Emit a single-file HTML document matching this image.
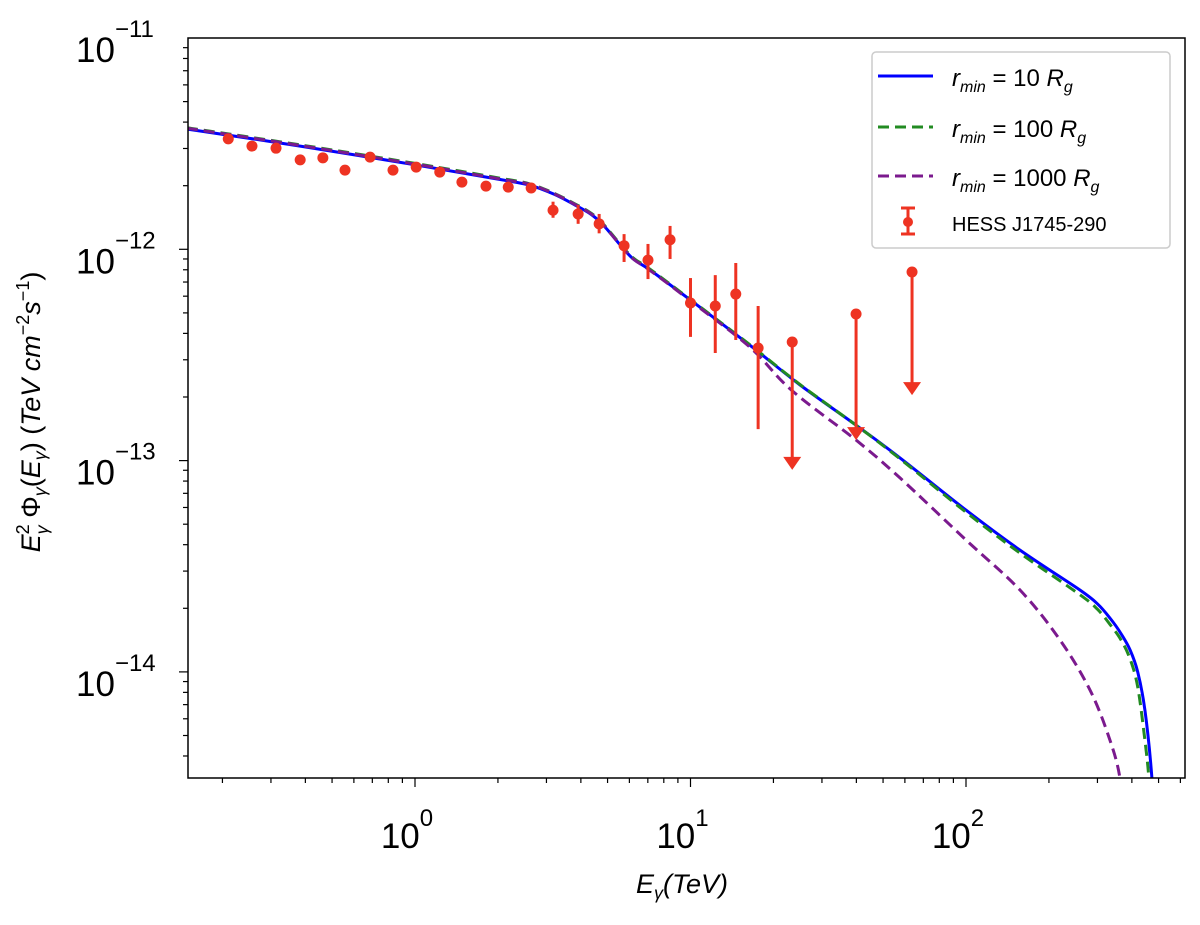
<!DOCTYPE html>
<html><head><meta charset="utf-8"><style>
body{margin:0;background:#fff;width:1200px;height:920px;overflow:hidden}
svg{font-family:"Liberation Sans","DejaVu Sans",sans-serif}
</style></head><body>
<svg id="chart" width="1200" height="920" viewBox="0 0 1200 920" xmlns="http://www.w3.org/2000/svg">
<defs><clipPath id="plotclip"><rect x="188" y="38" width="997" height="740"/></clipPath></defs>
<g id="curves" clip-path="url(#plotclip)"></g>
<g id="points"></g>
<rect x="188" y="38" width="997" height="740" fill="none" stroke="#000" stroke-width="1.5"/>
<g id="axes"></g>
<text x="682" y="893" font-size="27" text-anchor="middle" font-style="italic">E<tspan font-size="18" dy="6">γ</tspan><tspan dy="-6">(TeV)</tspan></text>
<text transform="translate(40,412) rotate(-90)" font-size="27" text-anchor="middle"><tspan font-style="italic">E</tspan><tspan font-size="18" dy="-11">2</tspan><tspan font-size="18" dx="-10" dy="19" font-style="italic">γ</tspan><tspan dy="-8">  Φ</tspan><tspan font-size="18" dy="6" font-style="italic">γ</tspan><tspan dy="-6">(</tspan><tspan font-style="italic">E</tspan><tspan font-size="18" dy="6" font-style="italic">γ</tspan><tspan dy="-6">) (</tspan><tspan font-style="italic">TeV cm</tspan><tspan font-size="18" dy="-11">−2</tspan><tspan dy="11" font-style="italic">s</tspan><tspan font-size="18" dy="-11">−1</tspan><tspan dy="11">)</tspan></text>
<g>
<rect x="872" y="52" width="298" height="196" rx="4" fill="#fff" stroke="#ccc" stroke-width="1.5"/>
<line x1="878" y1="76" x2="933" y2="76" stroke="#0000ff" stroke-width="3"/>
<text x="952" y="86" font-size="24"><tspan font-style="italic">r</tspan><tspan font-size="16" dy="6" font-style="italic">min</tspan><tspan dy="-6"> = 10 </tspan><tspan font-style="italic">R</tspan><tspan font-size="16" dy="6" font-style="italic">g</tspan></text>
<line x1="878" y1="127" x2="933" y2="127" stroke="#228b22" stroke-width="3" stroke-dasharray="11,6"/>
<text x="952" y="137" font-size="24"><tspan font-style="italic">r</tspan><tspan font-size="16" dy="6" font-style="italic">min</tspan><tspan dy="-6"> = 100 </tspan><tspan font-style="italic">R</tspan><tspan font-size="16" dy="6" font-style="italic">g</tspan></text>
<line x1="878" y1="176" x2="933" y2="176" stroke="#7b1a8e" stroke-width="3" stroke-dasharray="11,6"/>
<text x="952" y="186" font-size="24"><tspan font-style="italic">r</tspan><tspan font-size="16" dy="6" font-style="italic">min</tspan><tspan dy="-6"> = 1000 </tspan><tspan font-style="italic">R</tspan><tspan font-size="16" dy="6" font-style="italic">g</tspan></text>
<g stroke="#ee3322" stroke-width="3">
<line x1="908" y1="208" x2="908" y2="234"/><line x1="901" y1="208" x2="915" y2="208"/><line x1="901" y1="234" x2="915" y2="234"/><circle cx="908" cy="222" r="5" fill="#ee3322" stroke="none"/></g>
<text x="952" y="231" font-size="20">HESS J1745-290</text>
</g>
</svg>
<script>
// data
const dataE=[0.21,0.256,0.313,0.383,0.463,0.557,0.687,0.832,1.01,1.23,1.48,1.81,2.18,2.64,3.17,3.91,4.66,5.74,7.01,8.43,10.0,12.3,14.6,17.6];
const dataF=[3.33e-12,3.08e-12,3.01e-12,2.65e-12,2.71e-12,2.37e-12,2.73e-12,2.37e-12,2.45e-12,2.32e-12,2.08e-12,1.99e-12,1.97e-12,1.95e-12,1.53e-12,1.47e-12,1.32e-12,1.04e-12,0.889e-12,1.11e-12,0.557e-12,0.539e-12,0.614e-12,0.341e-12];
const dataHi=[null,null,null,null,null,null,null,null,null,null,null,null,null,null,1.68e-12,1.62e-12,1.47e-12,1.18e-12,1.06e-12,1.29e-12,0.731e-12,0.755e-12,0.861e-12,0.539e-12];
const dataLo=[null,null,null,null,null,null,null,null,null,null,null,null,null,null,1.41e-12,1.32e-12,1.19e-12,0.871e-12,0.723e-12,0.900e-12,0.385e-12,0.323e-12,0.372e-12,0.141e-12];
const ulE=[23.4,39.9,63.7];
const ulF=[0.364e-12,0.494e-12,0.781e-12];
const ulTip=[9.04e-14,1.25e-13,2.04e-13];
const blueE=[0.15,0.166,0.383,1,2.0,2.61,3.2,3.81,4.3,4.69,5.1,5.55,6.2,7.13,10,16.4,25.0,39.9,57.6,100,157,259,300,333,365,394,420,446,473,480];
const blueF=[3.7e-12,3.63e-12,3.08e-12,2.51e-12,2.15e-12,2.01e-12,1.82e-12,1.62e-12,1.48e-12,1.35e-12,1.2e-12,1.05e-12,0.9e-12,0.798e-12,0.575e-12,0.352e-12,0.228e-12,0.147e-12,0.103e-12,0.0583e-12,0.0377e-12,0.0244e-12,0.0210e-12,0.0180e-12,0.0152e-12,0.0127e-12,0.0100e-12,0.0066e-12,0.00315e-12,0.002e-12];
const greenE=[0.15,0.166,0.383,1,2.0,2.61,3.2,3.81,4.3,4.69,5.1,5.55,6.2,7.13,10,16.4,25.0,39.9,57.6,100,157,259,300,333,365,394,420,446,461,468];
const greenF=[3.75e-12,3.68e-12,3.12e-12,2.55e-12,2.18e-12,2.04e-12,1.84e-12,1.64e-12,1.5e-12,1.37e-12,1.21e-12,1.06e-12,0.91e-12,0.805e-12,0.578e-12,0.354e-12,0.229e-12,0.147e-12,0.102e-12,0.0570e-12,0.0365e-12,0.0232e-12,0.0198e-12,0.0168e-12,0.0142e-12,0.0115e-12,0.0085e-12,0.00476e-12,0.00315e-12,0.002e-12];
const purpleE=[0.15,0.166,0.383,1,2.0,2.61,3.2,3.81,4.3,4.69,5.1,5.55,6.2,7.13,10,16.4,23.2,39.9,57.6,100,157,219,282,333,362,370];
const purpleF=[3.72e-12,3.66e-12,3.1e-12,2.53e-12,2.16e-12,2.03e-12,1.83e-12,1.63e-12,1.49e-12,1.36e-12,1.2e-12,1.05e-12,0.9e-12,0.795e-12,0.57e-12,0.345e-12,0.216e-12,0.125e-12,0.0828e-12,0.0421e-12,0.0244e-12,0.0142e-12,0.0082e-12,0.00476e-12,0.00315e-12,0.002e-12];
const xTickExp=[0,1,2];
const yTickExp=[-11,-12,-13,-14];

const NS="http://www.w3.org/2000/svg";
const X0=415,XD=275.5,Y0=38,YD=211.3;
function sx(e){return X0+Math.log10(e)*XD;}
function sy(f){return Y0+(-11-Math.log10(f))*YD;}
function mk(tag,attrs,parent){const el=document.createElementNS(NS,tag);for(const k in attrs)el.setAttribute(k,attrs[k]);parent.appendChild(el);return el;}
const curves=document.getElementById('curves'),pts=document.getElementById('points'),axes=document.getElementById('axes');
function smoothPath(E,F){
  const P=E.map((e,i)=>[sx(e),sy(F[i])]);
  let d='M'+P[0][0].toFixed(1)+','+P[0][1].toFixed(1);
  for(let i=0;i<P.length-1;i++){
    const p0=P[Math.max(0,i-1)],p1=P[i],p2=P[i+1],p3=P[Math.min(P.length-1,i+2)];
    const c1=[p1[0]+(p2[0]-p0[0])/6,p1[1]+(p2[1]-p0[1])/6],c2=[p2[0]-(p3[0]-p1[0])/6,p2[1]-(p3[1]-p1[1])/6];
    d+=` C${c1[0].toFixed(1)},${c1[1].toFixed(1)} ${c2[0].toFixed(1)},${c2[1].toFixed(1)} ${p2[0].toFixed(1)},${p2[1].toFixed(1)}`;
  }
  return d;
}
function line(E,F,color,dash,name){
  const p=mk('path',{d:smoothPath(E,F),fill:'none',stroke:color,'stroke-width':3,'stroke-dasharray':dash},curves);
  
  
}
line(blueE,blueF,'#0000ff','none','curve-10rg');
line(greenE,greenF,'#228b22','11,6','curve-100rg');
line(purpleE,purpleF,'#7b1a8e','11,6','curve-1000rg');
const red='#ee3322';
dataE.forEach((e,i)=>{
  const g=mk('g',{},pts);
  
  
  if(dataHi[i]!==null) mk('line',{x1:sx(e),x2:sx(e),y1:sy(dataHi[i]),y2:sy(dataLo[i]),stroke:red,'stroke-width':3},g);
  mk('circle',{cx:sx(e),cy:sy(dataF[i]),r:5.5,fill:red},g);
});
ulE.forEach((e,i)=>{
  const g=mk('g',{},pts);
  
  
  const x=sx(e),y1=sy(ulF[i]),y2=sy(ulTip[i]);
  mk('line',{x1:x,x2:x,y1:y1,y2:y2-10,stroke:red,'stroke-width':3},g);
  mk('path',{d:`M${x-9},${y2-13} L${x+9},${y2-13} L${x},${y2} Z`,fill:red},g);
  mk('circle',{cx:x,cy:y1,r:5.5,fill:red},g);
});
for(let d=-1;d<=2;d++){for(let m=1;m<10;m++){const e=m*Math.pow(10,d);const x=sx(e);if(x<188||x>1185)continue;
  mk('line',{x1:x,x2:x,y1:778,y2:778+(m===1?9:5),stroke:'#000','stroke-width':1.2},axes);}}
xTickExp.forEach(p=>{const t=mk('text',{x:sx(Math.pow(10,p))-8,y:848,'font-size':35,'text-anchor':'middle'},axes);
  
  
  t.innerHTML='10<tspan font-size="24" dy="-22">'+p+'</tspan>';});
for(let d=-15;d<=-12;d++){for(let m=1;m<10;m++){const f=m*Math.pow(10,d);const y=sy(f);if(y<37||y>779)continue;
  mk('line',{x1:188,x2:188-(m===1?9:5),y1:y,y2:y,stroke:'#000','stroke-width':1.2},axes);}}
yTickExp.forEach(p=>{const t=mk('text',{x:76,y:sy(Math.pow(10,p))+24,'font-size':35},axes);
  
  
  t.innerHTML='10<tspan font-size="24" dy="-25">−'+(-p)+'</tspan>';});
</script>
</body></html>
